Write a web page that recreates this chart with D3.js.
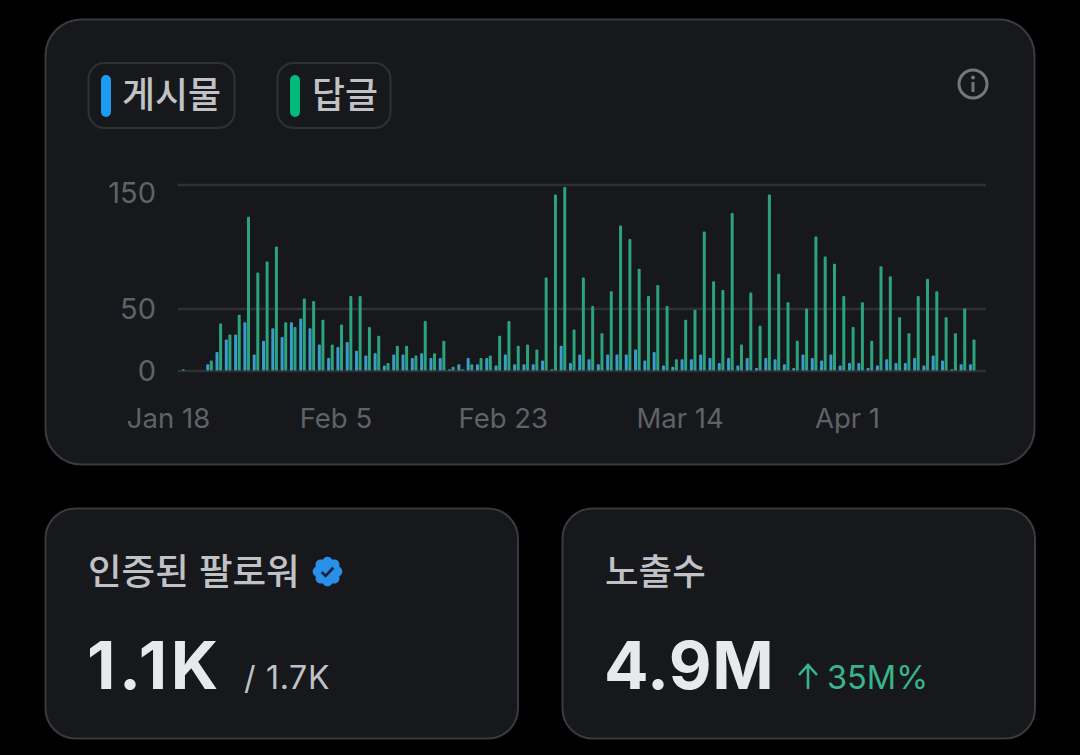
<!DOCTYPE html>
<html lang="ko">
<head>
<meta charset="utf-8">
<script src="https://cdn.jsdelivr.net/npm/d3@7"></script>
<style>
html,body{margin:0;padding:0;background:#000;}
svg{display:block;}
text{font-family:"Noto Sans CJK KR",sans-serif;}
</style>
</head>
<body>
<svg id="c" width="1080" height="755" viewBox="0 0 1080 755"></svg>
<script>
const seriesNames = ["게시물", "답글"];
const firstDay = "2025-01-19";
const postValues = [0,0,0,5,15,25,29,39,13,24,34,27,39,42,34,21,10,19,23,16,12,14,4,13,13,10,14,10,10,1,5,10,5,10,4,13,5,5,5,8,1,20,6,13,9,5,13,13,13,17,8,15,4,3,9,9,13,10,6,10,4,10,2,10,9,5,2,13,10,8,13,4,6,6,2,4,9,6,6,10,4,12,8,1,5,5];
const replyValues = [1,0,0,8,38,29,45,124,79,88,100,39,35,58,56,41,21,37,60,60,35,28,6,20,20,12,40,14,24,3,1,5,10,12,28,40,20,21,17,75,142,148,33,75,52,30,64,117,106,82,60,69,52,9,41,49,112,72,65,127,21,63,36,142,78,55,24,50,108,92,86,60,35,55,24,84,76,43,30,60,74,64,43,30,50,25];
const yTicks = [0, 50, 150];
const xTickDates = ["2025-01-18", "2025-02-05", "2025-02-23", "2025-03-14", "2025-04-01"];
const xTickLabels = ["Jan 18", "Feb 5", "Feb 23", "Mar 14", "Apr 1"];
const cardTitles = ["인증된 팔로워", "노출수"];
const followerValue = "1.1K", followerTotal = "/ 1.7K";
const impressionValue = "4.9M", impressionDelta = "35M%";

const COL = {card:"#17181c", border:"#3a3b3f", pill:"#2f3135", blue:"#1d9bf0", green:"#00ba7c",
  barBlue:"#3a9ccb", barGreen:"#2ba47c", grid:"#2f3034", tick:"#5f6266", title:"#c0c2c6", big:"#e7e9ea", delta:"#38b58a"};
const LATIN = "font-family:Inter,sans-serif;";

const svg = d3.select("#c");
const card = (x,y,w,h,r)=>svg.append("rect").attr("x",x+.5).attr("y",y+.5).attr("width",w).attr("height",h).attr("rx",r)
  .attr("fill",COL.card).attr("stroke",COL.border).attr("stroke-width",2);
card(45,19,989,445,36);
card(45,508,472.5,230,30);
card(562,508,472.5,230,30);

// legend
const legend = [{x:88,w:146,c:COL.blue,tx:122},{x:277,w:113,c:COL.green,tx:312}];
legend.forEach((l,i)=>{
  svg.append("rect").attr("x",l.x+.5).attr("y",63).attr("width",l.w).attr("height",65).attr("rx",16)
    .attr("fill","none").attr("stroke",COL.pill).attr("stroke-width",2);
  svg.append("rect").attr("x",l.x+13).attr("y",75).attr("width",10).attr("height",42).attr("rx",5).attr("fill",l.c);
  svg.append("text").attr("x",l.tx).attr("y",108).attr("font-size",36).attr("font-weight",500).attr("fill",COL.title).attr("textLength",i?66:99).attr("lengthAdjust","spacingAndGlyphs").text(seriesNames[i]);
});

// info icon
const info = svg.append("g").attr("transform","translate(973,84)");
info.append("circle").attr("r",14).attr("fill","none").attr("stroke","#74777b").attr("stroke-width",3);
info.append("circle").attr("cy",-6.5).attr("r",2).attr("fill","#74777b");
info.append("rect").attr("x",-1.5).attr("y",-2).attr("width",3).attr("height",10).attr("fill","#74777b");

// scales
const parse = d3.utcParse("%Y-%m-%d");
const x = d3.scaleUtc().domain([parse(xTickDates[0]), parse(xTickDates[4])]).range([168,847]);
const y = d3.scaleLinear().domain([0,150]).range([370.5,184.5]);
const days = postValues.map((_,i)=>d3.utcDay.offset(parse(firstDay),i));
const slotShift = 4.3, barW = 3, pairGap = 1.8;

// y axis & grid
const yAxis = svg.append("g").attr("transform","translate(178,0)")
  .call(d3.axisLeft(y).tickValues(yTicks).tickSize(-808).tickPadding(22).tickFormat(d3.format("d")));
yAxis.select(".domain").remove();
yAxis.selectAll("line").attr("stroke",COL.grid).attr("stroke-width",2.6);
yAxis.selectAll("text").attr("fill",COL.tick).attr("style",LATIN+"font-size:29px")
  .attr("dy",d=>d===150?"0.62em":"0.34em");

// x axis
const xAxis = svg.append("g").attr("transform","translate(0,370)")
  .call(d3.axisBottom(x).tickValues(xTickDates.map(parse)).tickSize(0).tickPadding(38).tickFormat((d,i)=>xTickLabels[i]));
xAxis.select(".domain").remove();
xAxis.selectAll("text").attr("fill",COL.tick).attr("style",LATIN+"font-size:27.5px");

// bars
const drawBars = (vals,col,dx)=>svg.append("g").selectAll("rect").data(vals).join("rect")
  .attr("x",(d,i)=>x(days[i])+slotShift+dx-barW/2).attr("width",barW)
  .attr("y",d=>y(d)).attr("height",d=>y(0)-y(d)).attr("rx",1).attr("fill",col);
drawBars(postValues,COL.barBlue,-pairGap);
drawBars(replyValues,COL.barGreen,pairGap);

// bottom cards
svg.append("text").attr("x",88).attr("y",585).attr("font-size",36.5).attr("font-weight",500).attr("fill",COL.title).text(cardTitles[0]);
svg.append("text").attr("x",605).attr("y",585).attr("font-size",36.5).attr("font-weight",500).attr("fill",COL.title).text(cardTitles[1]);

const badge = svg.append("g").attr("transform","translate(327.5,571.5) scale(1.45) translate(-12,-12)");
badge.append("path").attr("fill","#2a8fe8")
 .attr("d","M22.25 12c0-1.43-.88-2.67-2.19-3.34.46-1.39.2-2.9-.81-3.91s-2.52-1.27-3.91-.81c-.66-1.31-1.91-2.19-3.34-2.19s-2.67.88-3.33 2.19c-1.4-.46-2.91-.2-3.92.81s-1.26 2.52-.8 3.91c-1.31.67-2.2 1.91-2.2 3.34s.89 2.67 2.2 3.34c-.46 1.39-.21 2.9.8 3.91s2.52 1.26 3.91.81c.67 1.31 1.91 2.19 3.34 2.19s2.68-.88 3.34-2.19c1.39.45 2.9.2 3.91-.81s1.27-2.52.81-3.91c1.31-.67 2.19-1.91 2.19-3.34z");
badge.append("path").attr("d","M8 12.3l2.7 2.7 5.3-5.6").attr("fill","none").attr("stroke","#17233a").attr("stroke-width",1.9);

const bigText=(tx,t,ls)=>svg.append("text").attr("x",tx).attr("y",689).attr("style",LATIN+"font-size:66px;font-weight:700;letter-spacing:"+ls+"px").attr("fill",COL.big).text(t);
bigText(87,followerValue,3.6);
bigText(604,impressionValue,0.6);
svg.append("text").attr("x",244).attr("y",689).attr("style",LATIN+"font-size:32px;letter-spacing:0.7px").attr("fill",COL.title).text(followerTotal);
// delta arrow
const arrow = svg.append("g").attr("fill","none").attr("stroke",COL.delta).attr("stroke-width",2.6);
arrow.append("path").attr("d","M808 689V665M799 675l9-10 9 10");
svg.append("text").attr("x",827).attr("y",689).attr("style",LATIN+"font-size:32.5px").attr("fill",COL.delta).text(impressionDelta);
</script>
</body>
</html>
